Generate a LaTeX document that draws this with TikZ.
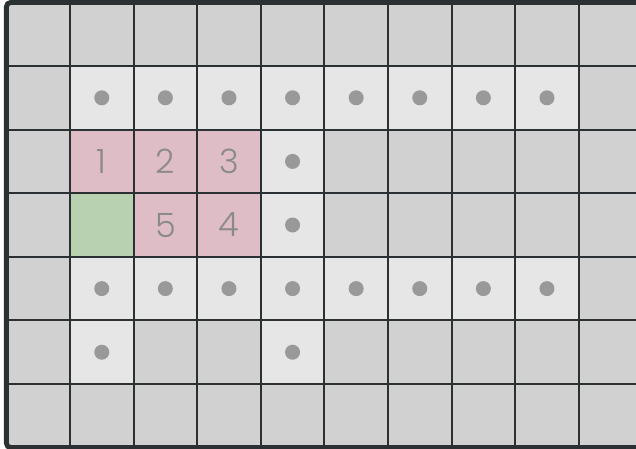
\documentclass[tikz,border=0pt]{standalone}
\usepackage{fontspec}
\newfontfamily\numfont{Poppins}[UprightFont=* Light]
\definecolor{cgray}{HTML}{D1D1D1}
\definecolor{clight}{HTML}{E6E6E6}
\definecolor{cpink}{HTML}{DFBDC6}
\definecolor{cgreen}{HTML}{B8D1B0}
\definecolor{cline}{HTML}{2B3033}
\definecolor{cdot}{HTML}{999999}
\definecolor{ctext}{HTML}{8A8A8A}
\tikzset{
  gridline/.style={draw=cline, line width=0.95pt},
  border/.style={draw=cline, line width=2.2pt, rounded corners=2pt},
  dotmark/.style={fill=cdot, draw=none},
  numlabel/.style={text=ctext, font=\numfont\fontsize{15}{15}\selectfont, inner sep=0pt, anchor=center}
}
\begin{document}
\begin{tikzpicture}[x=1cm,y=1cm]
\useasboundingbox (0,0) rectangle (10,7.044);
\clip (0,0) rectangle (10,7.044);
% grid origin: column i left edge x = 0.1+i ; row r top edge y = 7.006 - r
\def\gx{0.1}
\def\gy{7.006}
% background gray
\fill[cgray] (\gx,\gy-7) rectangle (\gx+10,\gy);
% light cells with dots: list of (col,row)
\foreach \c/\r in {1/1,2/1,3/1,4/1,5/1,6/1,7/1,8/1,4/2,4/3,1/4,2/4,3/4,4/4,5/4,6/4,7/4,8/4,1/5,4/5}{
  \fill[clight] (\gx+\c,\gy-\r-1) rectangle (\gx+\c+1,\gy-\r);
  \fill[dotmark] (\gx+\c+0.5,\gy-\r-0.5) circle (0.118);
}
% pink cells
\foreach \c/\r in {1/2,2/2,3/2,2/3,3/3}{
  \fill[cpink] (\gx+\c,\gy-\r-1) rectangle (\gx+\c+1,\gy-\r);
}
% green cell
\fill[cgreen] (\gx+1,\gy-4) rectangle (\gx+2,\gy-3);
% numbers
\node[numlabel] (n1) at (\gx+1.5,\gy-2.5) {1};
\node[numlabel] (n2) at (\gx+2.5,\gy-2.5) {2};
\node[numlabel] (n3) at (\gx+3.5,\gy-2.5) {3};
\node[numlabel] (n5) at (\gx+2.5,\gy-3.5) {5};
\node[numlabel] (n4) at (\gx+3.5,\gy-3.5) {4};
% grid lines
\foreach \i in {1,...,9}{
  \draw[gridline] (\gx+\i,\gy-7) -- (\gx+\i,\gy);
}
\foreach \j in {1,...,6}{
  \draw[gridline] (\gx,\gy-\j) -- (\gx+10,\gy-\j);
}
% outer border
\draw[border] (\gx,\gy-7) rectangle (\gx+10,\gy);
\end{tikzpicture}
\end{document}
